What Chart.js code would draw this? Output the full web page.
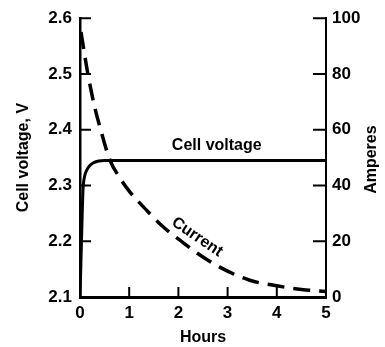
<!DOCTYPE html>
<html>
<head>
<meta charset="utf-8">
<script src="https://cdn.jsdelivr.net/npm/chart.js@4/dist/chart.umd.min.js"></script>
<style>
  body { margin: 0; background: #fff; }
  #wrap { width: 385px; height: 347px; }
</style>
</head>
<body>
<div id="wrap"><canvas id="c"></canvas></div>
<script>
// --- datos ---
const horas = [0, 1, 2, 3, 4, 5];
const voltTicks = [2.1, 2.2, 2.3, 2.4, 2.5, 2.6];
const ampTicks = [0, 20, 40, 60, 80, 100];

const voltX = [0, 0.03, 0.06, 0.09, 0.14, 0.2, 0.28, 0.38, 0.5, 1, 2, 3, 4, 5];
const voltY = [2.1, 2.2, 2.29, 2.315, 2.328, 2.336, 2.341, 2.344, 2.345, 2.345, 2.345, 2.345, 2.345, 2.345];

const corrX = [0.02, 0.16, 0.3, 0.42, 0.61, 0.8, 1.0, 1.36, 1.7, 2.03, 2.4, 2.84, 3.45, 4.0, 4.5, 5.0];
const corrY = [95, 80, 68, 60, 49, 43, 38, 31, 25, 20.4, 15.5, 10.7, 6, 4, 2.7, 2];

const pares = (xs, ys) => xs.map((x, i) => ({ x: x, y: ys[i] }));
const fuente = 'Liberation Sans, Arial, sans-serif';

// marcas hacia dentro, textos sobre la gráfica y título derecho
const extras = {
  id: 'extras',
  afterDraw(chart) {
    const { ctx, chartArea: a, scales: { x, y, y1 } } = chart;
    ctx.save();
    ctx.strokeStyle = '#000';
    ctx.lineWidth = 2;
    ctx.beginPath();
    horas.slice(1, 5).forEach(h => {
      const px = x.getPixelForValue(h);
      ctx.moveTo(px, a.bottom); ctx.lineTo(px, a.bottom - 10);
    });
    voltTicks.slice(1).forEach(v => {
      const py = y.getPixelForValue(v);
      ctx.moveTo(a.left, py); ctx.lineTo(a.left + 11, py);
    });
    ampTicks.slice(1).forEach(v => {
      const py = y1.getPixelForValue(v);
      ctx.moveTo(a.right, py); ctx.lineTo(a.right - 13, py);
    });
    ctx.stroke();

    ctx.fillStyle = '#000';
    ctx.font = 'bold 16px ' + fuente;
    ctx.textAlign = 'center';
    ctx.textBaseline = 'middle';
    ctx.fillText('Cell voltage', x.getPixelForValue(2.78), y.getPixelForValue(2.371));

    ctx.save();
    ctx.translate(x.getPixelForValue(2.38), y1.getPixelForValue(21.5));
    ctx.rotate(34 * Math.PI / 180);
    ctx.fillText('Current', 0, 0);
    ctx.restore();

    ctx.save();
    ctx.translate(372, (a.top + a.bottom) / 2 + 2);
    ctx.rotate(-Math.PI / 2);
    ctx.fillText('Amperes', 0, 0);
    ctx.restore();
    ctx.restore();
  }
};

new Chart(document.getElementById('c'), {
  type: 'line',
  data: {
    datasets: [
      {
        label: 'Cell voltage',
        data: pares(voltX, voltY),
        yAxisID: 'y',
        borderColor: '#000',
        borderWidth: 3,
        pointRadius: 0,
        cubicInterpolationMode: 'monotone'
      },
      {
        label: 'Current',
        data: pares(corrX, corrY),
        yAxisID: 'y1',
        borderColor: '#000',
        borderWidth: 3.5,
        borderDash: [17, 9],
        pointRadius: 0,
        cubicInterpolationMode: 'monotone'
      }
    ]
  },
  options: {
    responsive: true,
    maintainAspectRatio: false,
    animation: false,
    layout: { padding: { top: 17 } },
    plugins: { legend: { display: false }, tooltip: { enabled: false } },
    scales: {
      x: {
        type: 'linear',
        min: 0, max: 5,
        afterBuildTicks: s => { s.ticks = horas.map(v => ({ value: v })); },
        afterFit: s => { s.height = 50; },
        grid: { display: false, drawTicks: false },
        border: { display: true, color: '#000', width: 3 },
        ticks: { color: '#000', padding: 6, font: { family: fuente, size: 17, weight: 'bold' } },
        title: { display: true, text: 'Hours', color: '#000', padding: { top: 0, bottom: 0 }, font: { family: fuente, size: 16, weight: 'bold' } }
      },
      y: {
        position: 'left',
        min: 2.1, max: 2.6,
        afterBuildTicks: s => { s.ticks = voltTicks.map(v => ({ value: v })); },
        afterFit: s => { s.width = 80; },
        grid: { display: false, drawTicks: false },
        border: { display: true, color: '#000', width: 2.5 },
        ticks: { color: '#000', padding: 8, font: { family: fuente, size: 17, weight: 'bold' }, callback: v => v.toFixed(1) },
        title: { display: true, text: 'Cell voltage, V', color: '#000', padding: { top: 14 }, font: { family: fuente, size: 16, weight: 'bold' } }
      },
      y1: {
        position: 'right',
        min: 0, max: 100,
        afterBuildTicks: s => { s.ticks = ampTicks.map(v => ({ value: v })); },
        afterFit: s => { s.width = 59; },
        grid: { display: false, drawTicks: false },
        border: { display: true, color: '#000', width: 2 },
        ticks: { color: '#000', padding: 6, font: { family: fuente, size: 17, weight: 'bold' } }
      }
    }
  },
  plugins: [extras]
});
</script>
</body>
</html>
